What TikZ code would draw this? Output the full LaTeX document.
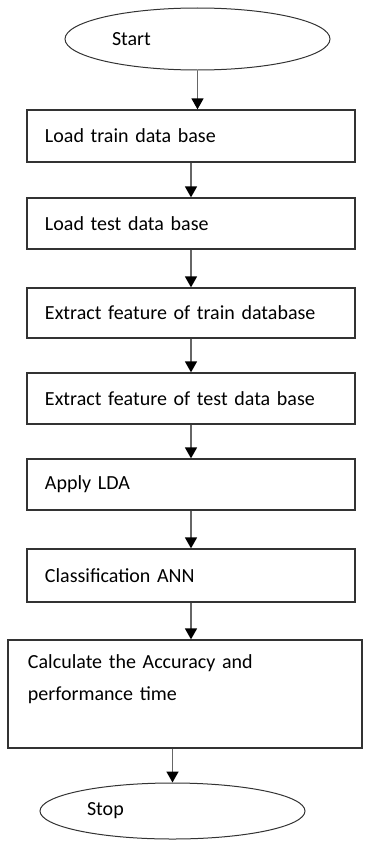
\documentclass[tikz,border=0pt]{standalone}
\usepackage{fontspec}
\setmainfont{Carlito}
\usetikzlibrary{shapes.geometric,arrows.meta}
\tikzset{
% Flowchart styles: terminal ellipses, process boxes and arrows
terminal node/.style={ellipse,draw=black!80,line width=1bp,inner sep=0,minimum width=265bp},
process node/.style={rectangle,draw=black!80,line width=1.3bp,minimum width=328bp,minimum height=51bp,inner xsep=18bp,text width=292bp,align=left},
flow/.style={-{Triangle[width=12bp,length=11bp,color=black]},draw=black!60,line width=1.6bp}
}
\begin{document}
\begin{tikzpicture}[x=1bp,y=-1bp,font=\fontsize{20bp}{24bp}\selectfont]
\useasboundingbox (0,0) rectangle (365,841);
\node[terminal node,minimum height=62bp,label={[anchor=west,xshift=44bp]west:Start}] (start) at (197.5,39){};
\node[process node,minimum height=52bp] (train) at (191,136) {Load train data base};
\node[process node] (test) at (191,223.5) {Load test data base};
\node[process node,minimum height=50bp] (ftrain) at (191,313) {Extract feature of train database};
\node[process node] (ftest) at (191,398.5) {Extract feature of test data base};
\node[process node] (lda) at (191,484.5) {Apply LDA};
\node[process node,minimum height=53bp] (ann) at (191,575.5) {Classification ANN};
\node[process node,minimum width=354bp,minimum height=108bp,inner xsep=20bp,text width=314bp] (acc) at (185,694)
  {Calculate the Accuracy and\\[8bp]performance time\\[8bp]\mbox{}};
\node[terminal node,minimum height=56bp,label={[anchor=west,xshift=44bp]west:Stop}] (stop) at (172.5,811){};

\draw[flow] (start.south) -- (start.south |- train.north);
\draw[flow] (train) -- (test);
\draw[flow] (test) -- (ftrain);
\draw[flow] (ftrain) -- (ftest);
\draw[flow] (ftest) -- (lda);
\draw[flow] (lda) -- (ann);
\draw[flow] (ann.south) -- (ann.south |- acc.north);
\draw[flow] (stop.north |- acc.south) -- (stop.north);
\end{tikzpicture}
\end{document}
